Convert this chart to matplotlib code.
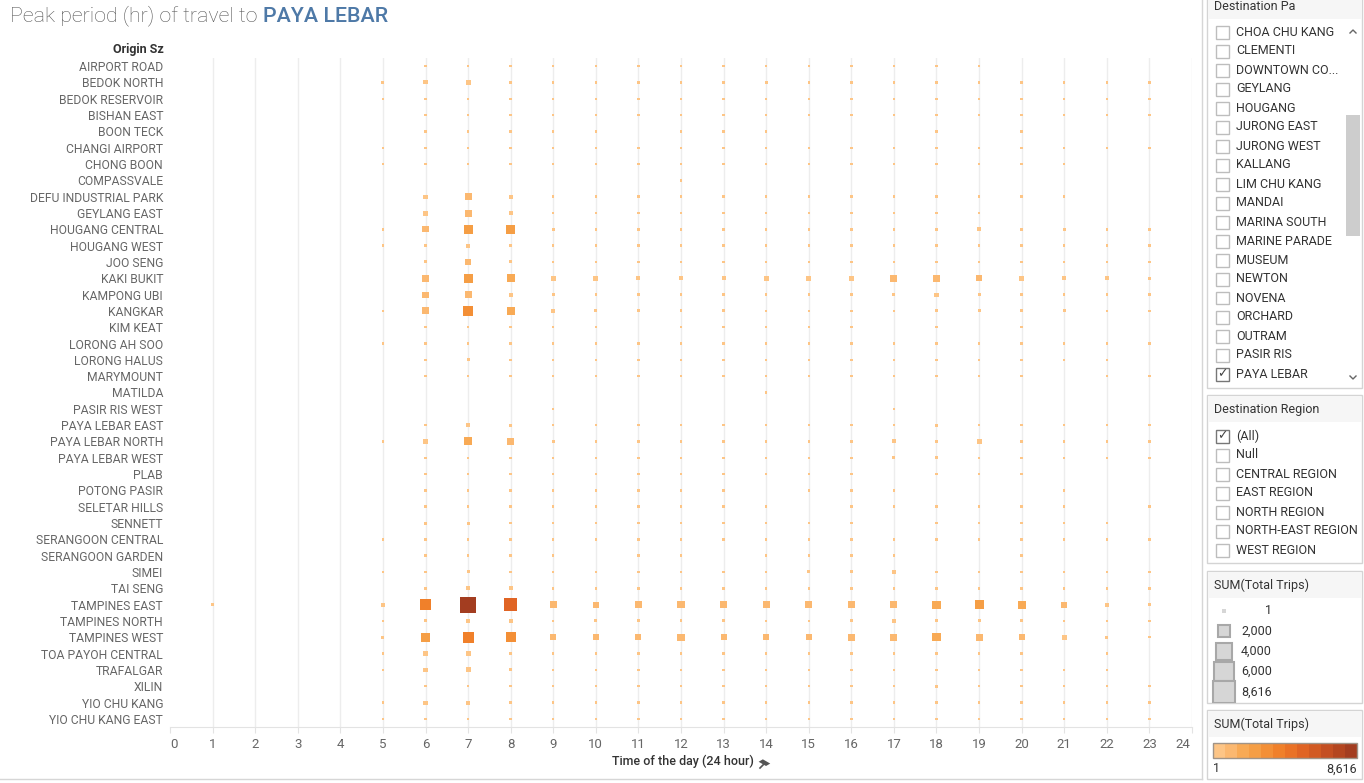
import matplotlib
matplotlib.use("Agg")
import matplotlib.pyplot as plt
import numpy as np
from matplotlib.colors import ListedColormap, BoundaryNorm
from matplotlib.patches import Rectangle
from matplotlib.lines import Line2D
from matplotlib.transforms import ScaledTranslation

###############################################################################
# Data

origins = [
    "AIRPORT ROAD", "BEDOK NORTH", "BEDOK RESERVOIR", "BISHAN EAST", "BOON TECK",
    "CHANGI AIRPORT", "CHONG BOON", "COMPASSVALE", "DEFU INDUSTRIAL PARK",
    "GEYLANG EAST", "HOUGANG CENTRAL", "HOUGANG WEST", "JOO SENG", "KAKI BUKIT",
    "KAMPONG UBI", "KANGKAR", "KIM KEAT", "LORONG AH SOO", "LORONG HALUS",
    "MARYMOUNT", "MATILDA", "PASIR RIS WEST", "PAYA LEBAR EAST",
    "PAYA LEBAR NORTH", "PAYA LEBAR WEST", "PLAB", "POTONG PASIR",
    "SELETAR HILLS", "SENNETT", "SERANGOON CENTRAL", "SERANGOON GARDEN",
    "SIMEI", "TAI SENG", "TAMPINES EAST", "TAMPINES NORTH", "TAMPINES WEST",
    "TOA PAYOH CENTRAL", "TRAFALGAR", "XILIN", "YIO CHU KANG",
    "YIO CHU KANG EAST",
]
hours = list(range(24))

# total trips per origin, hours 0..23 (0 = no trips)
T = 20
trips = [
    [0, 0, 0, 0, 0, 0, T, T, T, T, T, T, T, T, T, T, T, T, T, T, 0, 0, 0, 0],
    [0, 0, 0, 0, 0, 60, 210, 440, 60, T, T, T, T, T, 60, T, T, T, T, T, T, T, T, T],
    [0, 0, 0, 0, 0, T, T, T, T, T, T, T, T, T, T, T, T, T, T, T, T, T, T, T],
    [0, 0, 0, 0, 0, 0, T, T, T, T, T, T, T, T, T, T, T, T, T, T, T, T, T, T],
    [0, 0, 0, 0, 0, 0, T, T, T, T, T, 0, T, T, T, 0, 0, 0, T, 0, T, 0, 0, 0],
    [0, 0, 0, 0, 0, T, T, T, T, T, T, T, T, T, T, T, T, T, T, T, T, T, T, T],
    [0, 0, 0, 0, 0, T, T, T, T, T, T, T, T, T, T, T, T, T, T, T, T, T, 0, 0],
    [0, 0, 0, 0, 0, 0, 0, 0, 0, 0, 0, 0, T, 0, 0, 0, 0, 0, 0, 0, 0, 0, 0, 0],
    [0, 0, 0, 0, 0, 0, 210, 1160, 210, T, T, T, T, T, T, T, T, T, T, T, T, T, 0, 0],
    [0, 0, 0, 0, 0, 0, 440, 1160, 210, T, T, T, T, T, T, T, T, T, T, T, 0, 0, 0, 0],
    [0, 0, 0, 0, 0, T, 760, 2230, 2230, 60, T, T, 60, T, T, T, T, T, 60, 210, 60, 60, T, T],
    [0, 0, 0, 0, 0, T, 60, 210, 60, T, T, T, T, T, T, T, T, T, T, T, T, T, T, T],
    [0, 0, 0, 0, 0, 0, 60, 760, 60, T, T, T, T, T, T, T, T, T, T, T, T, T, T, T],
    [0, 0, 0, 0, 0, 0, 1160, 2230, 1650, 440, 440, 210, 210, 210, 440, 440, 440, 1160, 1160, 760, 440, 210, 210, 60],
    [0, 0, 0, 0, 0, 0, 760, 1160, 210, 60, T, T, T, T, T, T, 60, 60, 210, 60, T, T, T, T],
    [0, 0, 0, 0, 0, T, 1160, 2890, 1650, 210, 60, 60, 60, 60, T, T, T, T, 60, 60, 60, 60, T, T],
    [0, 0, 0, 0, 0, 0, T, T, T, T, T, 0, T, T, T, T, T, 0, T, 0, T, 0, 0, 0],
    [0, 0, 0, 0, 0, T, T, T, T, T, T, T, T, T, T, T, T, T, T, T, T, T, T, T],
    [0, 0, 0, 0, 0, 0, T, 60, T, T, T, T, T, T, T, T, T, T, T, T, T, T, T, 0],
    [0, 0, 0, 0, 0, 0, T, T, T, T, T, T, T, T, T, T, T, T, T, T, T, 0, T, T],
    [0, 0, 0, 0, 0, 0, 0, 0, 0, 0, 0, 0, 0, 0, T, 0, 0, 0, 0, 0, 0, 0, 0, 0],
    [0, 0, 0, 0, 0, 0, 0, 0, 0, T, 0, 0, 0, 0, 0, 0, 0, T, 0, 0, 0, 0, 0, 0],
    [0, 0, 0, 0, 0, 0, T, 210, 60, T, T, T, T, T, T, T, T, T, 60, T, T, T, T, T],
    [0, 0, 0, 0, 0, T, 440, 1650, 1160, 60, T, T, 60, T, T, T, T, 210, 60, 440, 60, T, T, T],
    [0, 0, 0, 0, 0, 0, T, T, T, T, T, T, T, T, T, T, T, 60, 60, T, T, T, T, T],
    [0, 0, 0, 0, 0, 0, T, T, T, T, T, T, T, T, T, T, T, 0, T, T, T, 0, 0, 0],
    [0, 0, 0, 0, 0, 0, T, T, T, T, T, T, T, T, 0, T, T, T, 0, 0, 0, T, 0, 0],
    [0, 0, 0, 0, 0, 0, T, T, T, T, T, T, T, T, T, 0, T, T, T, T, T, T, 0, T],
    [0, 0, 0, 0, 0, 0, 60, 60, T, T, T, T, T, T, T, T, T, 0, T, T, T, T, T, 0],
    [0, 0, 0, 0, 0, T, T, T, T, T, T, T, T, T, T, T, T, T, T, T, T, T, T, T],
    [0, 0, 0, 0, 0, 0, T, T, T, T, 0, T, T, 0, T, T, T, T, 0, 0, T, 0, 0, 0],
    [0, 0, 0, 0, 0, T, T, 60, T, T, T, T, T, T, T, 60, 60, 210, T, T, T, T, T, T],
    [0, 0, 0, 0, 0, 0, 60, 210, 210, T, T, T, T, 60, T, T, T, T, T, T, T, T, T, T],
    [0, T, 0, 0, 0, 210, 3640, 8616, 5400, 1160, 760, 1160, 1160, 1160, 1160, 1160, 1000, 1160, 1650, 2230, 1650, 760, 210, 60],
    [0, 0, 0, 0, 0, T, 60, 210, 210, T, 60, 60, 60, 60, T, T, 60, 210, 60, 60, 60, T, T, T],
    [0, 0, 0, 0, 0, 60, 2230, 3640, 2890, 760, 760, 760, 1160, 760, 760, 760, 1160, 1160, 1650, 1160, 760, 440, 60, T],
    [0, 0, 0, 0, 0, T, 440, 440, 60, T, T, T, T, T, T, T, T, T, 60, T, T, 0, T, 0],
    [0, 0, 0, 0, 0, T, 210, 440, 60, T, T, T, T, T, T, T, T, T, T, T, T, T, T, 0],
    [0, 0, 0, 0, 0, 0, T, T, T, T, T, T, T, T, T, T, T, T, 60, T, T, T, T, T],
    [0, 0, 0, 0, 0, T, 210, 210, T, T, T, T, T, T, T, T, T, T, T, T, T, T, T, T],
    [0, 0, 0, 0, 0, T, T, T, T, T, T, T, T, T, T, T, T, T, T, T, T, T, T, T],
]

trips_min, trips_max = 1, 8616
size_legend_vals = [1, 2000, 4000, 6000, 8616]
size_legend_labels = ["1", "2,000", "4,000", "6,000", "8,616"]

dest_pa_items = [
    "CHOA CHU KANG", "CLEMENTI", "DOWNTOWN CO...", "GEYLANG", "HOUGANG",
    "JURONG EAST", "JURONG WEST", "KALLANG", "LIM CHU KANG", "MANDAI",
    "MARINA SOUTH", "MARINE PARADE", "MUSEUM", "NEWTON", "NOVENA", "ORCHARD",
    "OUTRAM", "PASIR RIS", "PAYA LEBAR",
]
dest_pa_checked = "PAYA LEBAR"
region_items = ["(All)", "Null", "CENTRAL REGION", "EAST REGION",
                "NORTH REGION", "NORTH-EAST REGION", "WEST REGION"]
region_checked = "(All)"

###############################################################################
# Styling

W, H = 1364, 783
FONT = "Roboto"
plt.rcParams["font.family"] = [FONT, "DejaVu Sans"]

orange_steps = ["#FDC586", "#FBB870", "#F8AA55", "#F59E45", "#F38F36", "#F0802A",
                "#EA7226", "#E06424", "#D25A22", "#C44F22", "#B44620", "#A33D20"]
cmap = ListedColormap(orange_steps)
norm = BoundaryNorm(np.linspace(trips_min, trips_max, 13), 12)


def fx(x):
    return x / W


def fy(y):
    return 1 - y / H


def side_px(v):
    # mark side length in pixels, area grows with the trip count
    return 1.8 + 14.2 * np.sqrt(v / trips_max)


def legend_side_px(v):
    # the size legend in the dashboard draws its squares a bit larger
    return 3 + 19.5 * np.sqrt(v / trips_max)


fig = plt.figure(figsize=(W / 100, H / 100), dpi=100)
fig.patch.set_facecolor("white")

# main chart
ax = fig.add_axes([fx(170), fy(727), (1192 - 170) / W, (727 - 58) / H])
ax.set_xlim(0, 24)
ax.set_ylim(len(origins) - 0.5, -0.5)

for h in range(1, 25):
    ax.axvline(h, color="#EDEDED", lw=1, zorder=0)

xs, ys, vs = [], [], []
for i, row in enumerate(trips):
    for h, v in zip(hours, row):
        if v > 0:
            xs.append(h)
            ys.append(i)
            vs.append(v)
xs, ys, vs = np.array(xs), np.array(ys), np.array(vs)
order = np.argsort(vs)
ax.scatter(xs[order], ys[order], s=(side_px(vs[order]) * 0.72) ** 2,
           c=vs[order], cmap=cmap, norm=norm, marker="s", linewidths=0, zorder=3)

for s in ["top", "right", "left"]:
    ax.spines[s].set_visible(False)
ax.spines["bottom"].set_color("#E3E3E3")
ax.set_xticks(range(0, 25))
ax.tick_params(axis="x", length=4, color="#E3E3E3", labelsize=9.5,
               labelcolor="#666666", pad=4)
ax.set_yticks(range(len(origins)))
ax.set_yticklabels(origins)
ax.tick_params(axis="y", length=0, labelsize=8.7, labelcolor="#666666", pad=5)

# edge labels sit a little inside the axis, as in the dashboard
xlabels = ax.get_xticklabels()
xlabels[0].set_transform(xlabels[0].get_transform()
                         + ScaledTranslation(4 / 100, 0, fig.dpi_scale_trans))
xlabels[-1].set_transform(xlabels[-1].get_transform()
                          + ScaledTranslation(-9 / 100, 0, fig.dpi_scale_trans))

fig.text(fx(164), fy(49), "Origin Sz", ha="right", va="center", fontsize=9,
         fontweight="bold", color="#333333")
fig.text(fx(683), fy(761), "Time of the day (24 hour)", ha="center",
         va="center", fontsize=9, fontweight="medium", color="#333333")
# pin icon next to axis title
fig.add_artist(Line2D([fx(760), fx(764)], [fy(768), fy(764)], color="#555555",
                      lw=1.2, transform=fig.transFigure))
fig.add_artist(Rectangle((fx(766), fy(766)), 6 / W, 6 / H, angle=45,
                         transform=fig.transFigure, facecolor="#555555",
                         edgecolor="none"))

# title
t1 = fig.text(fx(10), fy(16), "Peak period (hr) of travel to ", ha="left",
              va="center", fontsize=15.4, fontweight="light", color="#555555")
ax.annotate("PAYA LEBAR", xy=(1, 0.5), xycoords=t1, ha="left", va="center",
            fontsize=15.4, fontweight="medium", color="#4E79A7",
            annotation_clip=False)

# sheet border
fig.add_artist(Line2D([fx(1202), fx(1202)], [fy(0), fy(779)], color="#D6D6D6",
                      lw=1, transform=fig.transFigure))
fig.add_artist(Line2D([fx(0), fx(1202)], [fy(779), fy(779)], color="#D6D6D6",
                      lw=1, transform=fig.transFigure))


###############################################################################
# Right-hand panels

def panel(top, bottom, title, head_h=27):
    box = Rectangle((fx(1207), fy(bottom)), (1362 - 1207) / W,
                    (bottom - top) / H, transform=fig.transFigure,
                    facecolor="white", edgecolor="#D4D4D4", lw=1)
    fig.add_artist(box)
    fig.add_artist(Rectangle((fx(1208), fy(top + head_h)), (1361 - 1208) / W,
                             (head_h - 1) / H, transform=fig.transFigure,
                             facecolor="#F6F6F6", edgecolor="none"))
    fig.text(fx(1214), fy(top + head_h / 2 + 1), title, ha="left", va="center",
             fontsize=9, color="#333333")
    return box


def checkbox(y, label, checked):
    fig.add_artist(Rectangle((fx(1216), fy(y + 6.5)), 13 / W, 13 / H,
                             transform=fig.transFigure, facecolor="white",
                             edgecolor="#777777" if checked else "#BDBDBD",
                             lw=1))
    if checked:
        fig.text(fx(1222.5), fy(y), "\u2713", ha="center", va="center",
                 fontsize=9, color="#444444", family="DejaVu Sans")
    fig.text(fx(1236), fy(y), label, ha="left", va="center", fontsize=9,
             color="#333333")


panel(-8, 388, "Destination Pa", head_h=27)
for k, name in enumerate(dest_pa_items):
    checkbox(32 + 19 * k, name, name == dest_pa_checked)
# scrollbar
fig.add_artist(Rectangle((fx(1346), fy(236)), 14 / W, (236 - 115) / H,
                         transform=fig.transFigure, facecolor="#CDCDCD",
                         edgecolor="none"))
fig.add_artist(Line2D([fx(1350), fx(1353), fx(1356)], [fy(33), fy(30), fy(33)],
                      color="#666666", lw=1, transform=fig.transFigure))
fig.add_artist(Line2D([fx(1350), fx(1353), fx(1356)], [fy(376), fy(379), fy(376)],
                      color="#666666", lw=1, transform=fig.transFigure))

panel(395, 563, "Destination Region")
for k, name in enumerate(region_items):
    checkbox(436 + 19 * k, name, name == region_checked)

size_box = panel(571, 703, "SUM(Total Trips)")
for k, (v, lab) in enumerate(zip(size_legend_vals, size_legend_labels)):
    yc = 611 + 20.2 * k
    sd = legend_side_px(v)
    sq = Rectangle((fx(1224 - sd / 2), fy(yc + sd / 2)), sd / W, sd / H,
                   transform=fig.transFigure, facecolor="#D6D6D6",
                   edgecolor="#A8A8A8" if k > 0 else "none", lw=1.5)
    sq.set_clip_path(size_box)
    fig.add_artist(sq)
    fig.text(fx(1272), fy(yc), lab, ha="right", va="center", fontsize=9,
             color="#333333")

panel(710, 779, "SUM(Total Trips)")
step_w = (1357 - 1213) / len(orange_steps)
for k, col in enumerate(orange_steps):
    fig.add_artist(Rectangle((fx(1213 + k * step_w), fy(758)), step_w / W,
                             15 / H, transform=fig.transFigure, facecolor=col,
                             edgecolor="none"))
fig.add_artist(Rectangle((fx(1213), fy(758)), (1357 - 1213) / W, 15 / H,
                         transform=fig.transFigure, facecolor="none",
                         edgecolor="#A09488", lw=1))
fig.text(fx(1213), fy(769), "1", ha="left", va="center", fontsize=9,
         color="#333333")
fig.text(fx(1357), fy(769), "8,616", ha="right", va="center", fontsize=9,
         color="#333333")

fig.savefig("out.png", dpi=100)
